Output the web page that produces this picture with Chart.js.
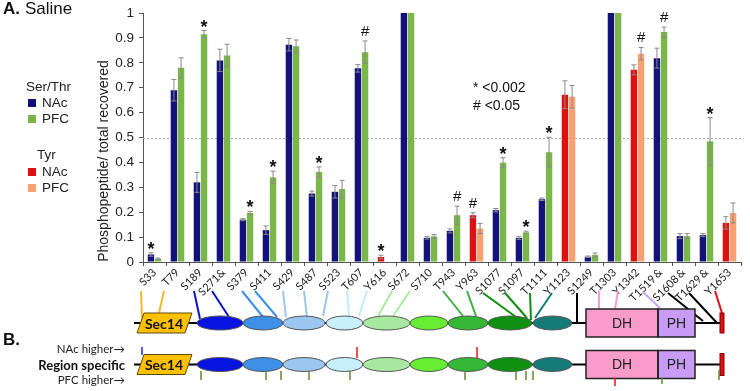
<!DOCTYPE html>
<html>
<head>
<meta charset="utf-8">
<script src="https://cdn.jsdelivr.net/npm/chart.js@4/dist/chart.umd.min.js"></script>
<style>
html,body{margin:0;padding:0;background:#fff;}
#wrap{width:750px;height:391px;position:relative;}
</style>
</head>
<body>
<div id="wrap"><canvas id="c" width="750" height="391"></canvas></div>
<script>
// ---- DATA ----
const categories = ['S33','T79','S189','S271&','S379','S411','S429','S487','S523','T607','Y616','S672','S710','T943','Y963','S1077','S1097','T1111','Y1123','S1249','T1303','Y1342','T1519\u2009&','S1608\u2009&','T1629\u2009&','Y1653'];
const nacValues = [0.03,0.69,0.32,0.81,0.17,0.128,0.873,0.275,0.282,0.778,0.02,1,0.097,0.125,0.188,0.208,0.097,0.252,0.672,0.021,1,0.772,0.819,0.104,0.108,0.157];
const nacErrors = [0.007,0.043,0.04,0.045,0.004,0.017,0.025,0.01,0.025,0.015,0.007,0,0.005,0.008,0.01,0.007,0.006,0.005,0.056,0.003,0,0.02,0.04,0.01,0.006,0.025];
const pfcValues = [0.013,0.78,0.915,0.83,0.197,0.34,0.867,0.362,0.293,0.843,0,1,0.103,0.188,0.135,0.399,0.119,0.441,0.664,0.028,1,0.837,0.924,0.104,0.485,0.197];
const pfcErrors = [0.003,0.04,0.015,0.045,0.006,0.025,0.025,0.02,0.035,0.045,0,0,0.007,0.036,0.02,0.02,0.005,0.06,0.045,0.008,0,0.025,0.02,0.01,0.095,0.04];
const sigNAc = ['*','','','','','','','','','','*','','','','#','','','','','','','','','','',''];
const sigPFC = ['','','*','','*','*','','*','','#','','','','#','','*','*','*','','','','#','#','','*',''];
const yTicks = [0,0.1,0.2,0.3,0.4,0.5,0.6,0.7,0.8,0.9,1];
const threshold = 0.5;

// ---- STYLE ----
const C_NAC = '#12127a', C_PFC = '#7ab648', C_TNAC = '#dd1111', C_TPFC = '#f8a172';
const isTyr = categories.map(c => c.startsWith('Y'));
const nacColors = isTyr.map(t => t ? C_TNAC : C_NAC);
const pfcColors = isTyr.map(t => t ? C_TPFC : C_PFC);

function drawDiagram(ctx) {
  const rows = [323, 364.5];
  const ellipses = [[197,243,'#0a14e0'],[243,283,'#3d8fe8'],[283,325,'#9cc6f0'],[326,363,'#c8f0fc'],[363,410,'#a8e8a0'],[410,448,'#66ee33'],[448,488,'#35b835'],[488,532,'#109010'],[533,572,'#157a78']];
  ctx.save();
  const conn = [
    ['#f5b82e',141,291,142,318],['#f5b82e',164,291,159,313],
    ['#0a14c8',194,291,200,319],['#0a14c8',212,291,229,317],
    ['#3d8fe8',242,291,263,317],['#3d8fe8',255,291,277,317],
    ['#9cc6f0',283,291,286,317],['#9cc6f0',304,291,307,317],['#9cc6f0',328,291,323,316],
    ['#c0ecfa',347,291,349,316],['#c0ecfa',367,291,359,316],
    ['#a8eca0',392,291,378,316],['#a8eca0',410,291,393,316],
    ['#3cb043',443,291,463,316],['#3cb043',467,291,476,316],
    ['#108c10',483,293,516,317],['#108c10',505,293,527,318],['#108c10',530,293,531,320],
    ['#157a78',552,293,535,318],
    ['#000000',577,293,577,323],
    ['#f4a0cc',599,291,599,309],['#f4a0cc',618,291,615,309],
    ['#c8a8f4',643,292,660,308],
    ['#000000',668,293,703,321],['#000000',689,293,717,323],
    ['#dd1111',715,291,722,313]
  ];
  ctx.lineWidth = 2;
  conn.forEach(([col,x1,y1,x2,y2]) => {
    ctx.strokeStyle = col; ctx.beginPath(); ctx.moveTo(x1,y1); ctx.lineTo(x2,y2); ctx.stroke();
  });
  rows.forEach((y, r) => {
    ctx.strokeStyle = '#000'; ctx.lineWidth = 2;
    ctx.beginPath(); ctx.moveTo(134,y); ctx.lineTo(722,y); ctx.stroke();
    ctx.beginPath();
    ctx.moveTo(144,y-10); ctx.lineTo(192,y-10); ctx.lineTo(185,y+10); ctx.lineTo(137,y+10); ctx.closePath();
    ctx.fillStyle = '#ffc000'; ctx.fill(); ctx.strokeStyle = '#5a4a10'; ctx.lineWidth = 1; ctx.stroke();
    ctx.fillStyle = '#111'; ctx.font = 'bold 14px Lato'; ctx.textAlign = 'center'; ctx.textBaseline = 'middle';
    ctx.fillText('Sec14', 164, y+1);
    ellipses.forEach(([x0,x1,col]) => {
      ctx.beginPath(); ctx.ellipse((x0+x1)/2, y, (x1-x0)/2, 7, 0, 0, Math.PI*2);
      ctx.fillStyle = col; ctx.fill(); ctx.strokeStyle = '#555'; ctx.lineWidth = 1; ctx.stroke();
    });
    ctx.fillStyle = '#f89dc9'; ctx.fillRect(586,y-14,72,28);
    ctx.fillStyle = '#c89cf4'; ctx.fillRect(658,y-14,37,28);
    ctx.strokeStyle = '#222'; ctx.lineWidth = 1.5;
    ctx.strokeRect(586,y-14,72,28); ctx.strokeRect(658,y-14,37,28);
    ctx.fillStyle = '#222'; ctx.font = '14px "Liberation Sans"';
    ctx.fillText('DH', 622, y+1); ctx.fillText('PH', 676.5, y+1);
    ctx.fillStyle = '#dd1111'; ctx.fillRect(720,y-10-r,4,20+2*r);
    ctx.strokeStyle = '#880000'; ctx.lineWidth = 1; ctx.strokeRect(720,y-10-r,4,20+2*r);
  });
  ctx.lineWidth = 1.5;
  ctx.strokeStyle = '#1a2ad0'; ctx.beginPath(); ctx.moveTo(142,347); ctx.lineTo(142,355); ctx.stroke();
  ctx.strokeStyle = '#ee1111';
  [357,477].forEach(x => { ctx.beginPath(); ctx.moveTo(x,347); ctx.lineTo(x,358); ctx.stroke(); });
  ctx.beginPath(); ctx.moveTo(615,378); ctx.lineTo(615,386); ctx.stroke();
  ctx.strokeStyle = '#5c8a30';
  [201,266,281,309,350,465,516,526,533].forEach(x => { ctx.beginPath(); ctx.moveTo(x,371); ctx.lineTo(x,380); ctx.stroke(); });
  ctx.beginPath(); ctx.moveTo(662,378); ctx.lineTo(662,384); ctx.stroke();
  ctx.beginPath(); ctx.moveTo(719,370); ctx.lineTo(719,380); ctx.stroke();
  ctx.fillStyle = '#111'; ctx.textAlign = 'left'; ctx.textBaseline = 'middle';
  ctx.font = 'bold 17px "Liberation Sans"'; ctx.fillText('B.', 3, 340);
  ctx.textAlign = 'right';
  ctx.font = '11.5px Lato'; ctx.fillStyle = '#222';
  ctx.fillText('NAc higher\u2192', 125, 349);
  ctx.fillText('PFC higher\u2192', 125, 380);
  ctx.font = 'bold 13px Lato'; ctx.fillStyle = '#111';
  ctx.fillText('Region specific', 125, 366);
  ctx.restore();
}

const extras = {
  id: 'extras',
  beforeDatasetsDraw(chart) {
    const {ctx, chartArea, scales:{y}} = chart;
    const py = Math.round(y.getPixelForValue(threshold)) + 0.5;
    ctx.save();
    ctx.strokeStyle = '#aaaaaa'; ctx.lineWidth = 1; ctx.setLineDash([2,2]);
    ctx.beginPath(); ctx.moveTo(chartArea.left, py); ctx.lineTo(chartArea.right, py); ctx.stroke();
    ctx.restore();
  },
  afterDatasetsDraw(chart) {
    const {ctx, scales:{y}} = chart;
    const errs = [nacErrors, pfcErrors];
    const vals = [nacValues, pfcValues];
    const sigs = [sigNAc, sigPFC];
    ctx.save();
    chart.data.datasets.forEach((ds, di) => {
      const meta = chart.getDatasetMeta(di);
      meta.data.forEach((bar, i) => {
        const v = vals[di][i], e = errs[di][i];
        const x = bar.x;
        const top = y.getPixelForValue(v + e);
        if (e > 0) {
          const bot = y.getPixelForValue(v - e);
          ctx.strokeStyle = '#8a8a8a'; ctx.lineWidth = 1;
          ctx.beginPath();
          ctx.moveTo(x, top); ctx.lineTo(x, bot);
          ctx.moveTo(x-2.5, top); ctx.lineTo(x+2.5, top);
          ctx.moveTo(x-2.5, bot); ctx.lineTo(x+2.5, bot);
          ctx.stroke();
        }
        const s = sigs[di][i];
        if (s) {
          ctx.fillStyle = '#111';
          ctx.textAlign = 'center'; ctx.textBaseline = 'alphabetic';
          if (s === '*') { ctx.font = 'bold 18px "Liberation Sans"'; ctx.fillText(s, x, top + 2); }
          else { ctx.font = '15px "Liberation Sans"'; ctx.fillText(s, x, top - 5); }
        }
      });
    });
    ctx.restore();
  },
  afterDraw(chart) {
    const {ctx} = chart;
    ctx.save();
    ctx.textBaseline = 'middle'; ctx.textAlign = 'left'; ctx.fillStyle = '#111';
    ctx.font = 'bold 17px "Liberation Sans"'; ctx.fillText('A.', 3, 9);
    ctx.font = '17px "Liberation Sans"'; ctx.fillText('Saline', 25, 9);
    ctx.save();
    ctx.translate(104, 161); ctx.rotate(-Math.PI/2);
    ctx.textAlign = 'center'; ctx.font = '14px "Liberation Sans"'; ctx.fillStyle = '#222';
    ctx.fillText('Phosphopeptide/ total recovered', 0, 0);
    ctx.restore();
    ctx.font = '13.5px "Liberation Sans"'; ctx.fillStyle = '#222';
    ctx.fillText('Ser/Thr', 26, 87);
    ctx.fillText('NAc', 42, 103); ctx.fillText('PFC', 42, 119);
    ctx.fillText('Tyr', 37, 155);
    ctx.fillText('NAc', 42, 172); ctx.fillText('PFC', 42, 188);
    [[C_NAC,103],[C_PFC,119],[C_TNAC,172],[C_TPFC,188]].forEach(([c,yy]) => {
      ctx.fillStyle = c; ctx.fillRect(28, yy-4, 8, 8);
    });
    ctx.fillStyle = '#111'; ctx.font = '14px "Liberation Sans"';
    ctx.fillText('* <0.002', 473, 88);
    ctx.fillText('# <0.05', 473, 106);
    drawDiagram(ctx);
    ctx.restore();
  }
};

new Chart(document.getElementById('c'), {
  type: 'bar',
  data: {
    labels: categories,
    datasets: [
      {label: 'NAc', data: nacValues, backgroundColor: nacColors, categoryPercentage: 0.62, barPercentage: 0.9},
      {label: 'PFC', data: pfcValues, backgroundColor: pfcColors, categoryPercentage: 0.62, barPercentage: 0.9}
    ]
  },
  options: {
    responsive: false,
    animation: false,
    layout: {padding: {left: 0, right: 9, top: 12, bottom: 0}},
    plugins: {legend: {display: false}, tooltip: {enabled: false}},
    scales: {
      x: {
        grid: {drawOnChartArea: false, drawTicks: true, tickLength: 4, color: '#555', offset: true},
        border: {display: true, color: '#555'},
        ticks: {minRotation: 45, maxRotation: 45, autoSkip: false, color: '#222', font: {family: 'Lato', size: 11}, padding: 0},
        afterFit(s) { s.height = 129; }
      },
      y: {
        min: 0, max: 1,
        afterBuildTicks(s) { s.ticks = yTicks.map(v => ({value: v})); },
        grid: {drawOnChartArea: false, drawTicks: true, tickLength: 4, color: '#555'},
        border: {display: true, color: '#555'},
        ticks: {color: '#222', font: {family: 'Liberation Sans', size: 13.5}, padding: 5,
          callback: v => String(+v.toFixed(1))},
        afterFit(s) { s.width = 143; }
      }
    }
  },
  plugins: [extras]
});
</script>
</body>
</html>
